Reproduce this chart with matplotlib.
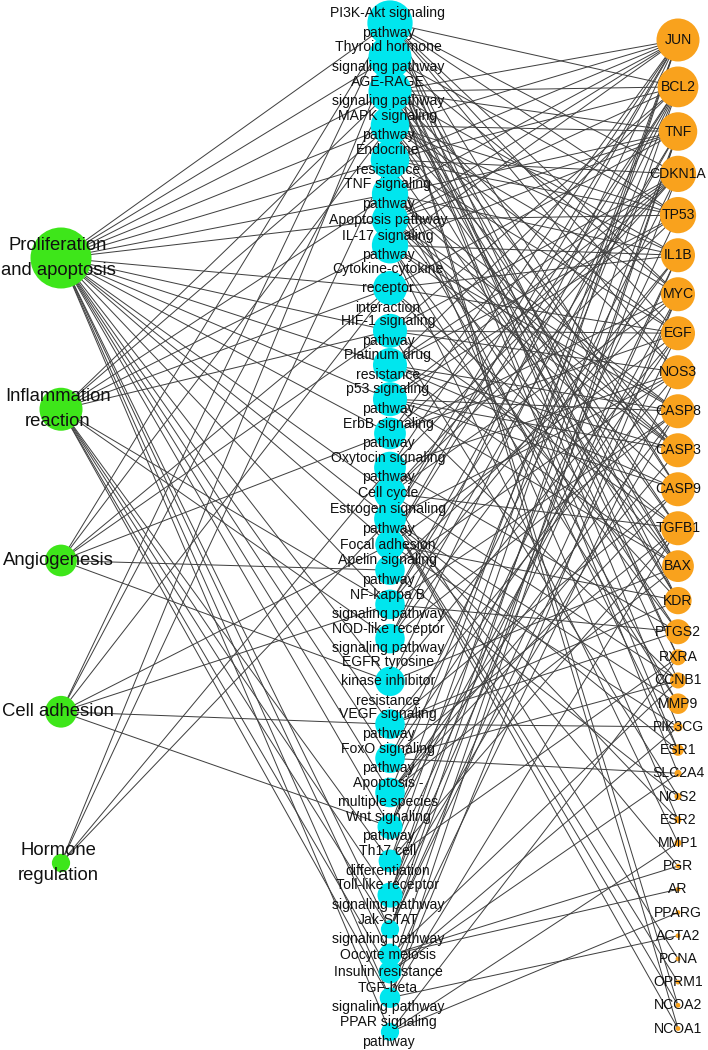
import numpy as np
import matplotlib.pyplot as plt
from matplotlib.patches import Circle

plt.rcParams['font.family'] = ['Liberation Sans', 'DejaVu Sans']

# --- nodes (left: functions, middle: KEGG pathways, right: targets) ---
categories = ["Proliferation\nand apoptosis", "Inflammation\nreaction",
              "Angiogenesis", "Cell adhesion", "Hormone\nregulation"]
category_degree = [26, 18, 13, 13, 7]

pathways = [
    "PI3K-Akt signaling\npathway", "Thyroid hormone\nsignaling pathway",
    "AGE-RAGE\nsignaling pathway", "MAPK signaling\npathway",
    "Endocrine\nresistance", "TNF signaling\npathway", "Apoptosis pathway",
    "IL-17 signaling\npathway", "Cytokine-cytokine\nreceptor\ninteraction",
    "HIF-1 signaling\npathway", "Platinum drug\nresistance",
    "p53 signaling\npathway", "ErbB signaling\npathway",
    "Oxytocin signaling\npathway", "Cell cycle", "Estrogen signaling\npathway",
    "Focal adhesion", "Apelin signaling\npathway", "NF-kappa B\nsignaling pathway",
    "NOD-like receptor\nsignaling pathway",
    "EGFR tyrosine\nkinase inhibitor\nresistance", "VEGF signaling\npathway",
    "FoxO signaling\npathway", "Apoptosis -\nmultiple species",
    "Wnt signaling\npathway", "Th17 cell\ndifferentiation",
    "Toll-like receptor\nsignaling pathway", "Jak-STAT\nsignaling pathway",
    "Oocyte meiosis", "Insulin resistance", "TGF-beta\nsignaling pathway",
    "PPAR signaling\npathway",
]
pathway_degree = [19, 18, 18, 16, 16, 15, 15, 15, 14, 14, 14, 14, 13, 13, 13, 13,
                  12, 12, 12, 12, 12, 12, 12, 12, 10, 9, 10, 7, 9, 9, 8, 7]

genes = ["JUN", "BCL2", "TNF", "CDKN1A", "TP53", "IL1B", "MYC", "EGF", "NOS3",
         "CASP8", "CASP3", "CASP9", "TGFB1", "BAX", "KDR", "PTGS2", "RXRA",
         "CCNB1", "MMP9", "PIK3CG", "ESR1", "SLC2A4", "NOS2", "ESR2", "MMP1",
         "PGR", "AR", "PPARG", "ACTA2", "PCNA", "OPRM1", "NCOA2", "NCOA1"]
gene_degree = [18, 17, 16, 15, 15, 14, 14, 14, 14, 14, 14, 14, 14, 13, 11, 10, 6,
               6, 8, 3, 4, 2, 2, 2, 2, 1, 1, 1, 1, 1, 1, 1, 1]

# --- edges ---
category_links = {
    "Proliferation and apoptosis": [
        "PI3K-Akt", "Thyroid hormone", "AGE-RAGE", "MAPK", "Endocrine", "TNF",
        "Apoptosis pathway", "Cytokine", "HIF-1", "Platinum", "p53", "ErbB",
        "Cell cycle", "Estrogen", "Focal", "NF-kappa", "EGFR", "VEGF", "FoxO",
        "Apoptosis -", "Wnt", "Jak-STAT", "Oocyte", "TGF-beta", "PPAR"],
    "Inflammation reaction": [
        "AGE-RAGE", "MAPK", "TNF", "IL-17", "Cytokine", "HIF-1", "NF-kappa",
        "NOD-like", "Th17", "Toll-like", "Jak-STAT", "Insulin", "TGF-beta"],
    "Angiogenesis": [
        "PI3K-Akt", "MAPK", "Cytokine", "HIF-1", "ErbB", "Apelin", "EGFR"],
    "Cell adhesion": [
        "PI3K-Akt", "AGE-RAGE", "Cytokine", "Focal", "NF-kappa", "VEGF", "Wnt"],
    "Hormone regulation": [
        "Thyroid hormone", "Endocrine", "Oxytocin", "Estrogen"],
}

pathway_links = {
    "PI3K-Akt": ["BCL2", "CDKN1A", "TP53", "MYC", "EGF", "NOS3", "CASP9", "KDR", "PIK3CG", "RXRA"],
    "Thyroid hormone": ["TP53", "MYC", "CASP9", "BAX", "ESR1", "NCOA1", "NCOA2", "RXRA", "SLC2A4", "CCNB1"],
    "AGE-RAGE": ["JUN", "BCL2", "TNF", "IL1B", "CASP3", "TGFB1", "BAX", "NOS3", "KDR"],
    "MAPK": ["JUN", "TNF", "TP53", "IL1B", "MYC", "EGF", "CASP3", "TGFB1", "KDR"],
    "Endocrine": ["JUN", "BCL2", "CDKN1A", "TP53", "EGF", "BAX", "ESR1", "ESR2"],
    "TNF": ["JUN", "TNF", "IL1B", "CASP8", "CASP3", "PTGS2", "MMP9"],
    "Apoptosis pathway": ["JUN", "BCL2", "TNF", "TP53", "CASP8", "CASP3", "CASP9", "BAX"],
    "IL-17": ["JUN", "TNF", "IL1B", "CASP8", "CASP3", "PTGS2", "MMP9", "MMP1"],
    "Cytokine": ["TNF", "IL1B", "EGF", "TGFB1", "KDR"],
    "HIF-1": ["BCL2", "CDKN1A", "EGF", "NOS3", "NOS2", "TGFB1"],
    "Platinum": ["BCL2", "CDKN1A", "TP53", "CASP8", "CASP3", "CASP9", "BAX"],
    "p53": ["CDKN1A", "TP53", "CASP8", "CASP3", "CASP9", "BAX", "CCNB1"],
    "ErbB": ["JUN", "CDKN1A", "MYC", "EGF"],
    "Oxytocin": ["JUN", "CDKN1A", "NOS3", "PTGS2"],
    "Cell cycle": ["CDKN1A", "TP53", "MYC", "TGFB1", "CCNB1", "PCNA"],
    "Estrogen": ["JUN", "BCL2", "NOS3", "ESR1", "ESR2", "MMP9", "PGR", "NCOA1", "NCOA2", "OPRM1"],
    "Focal": ["JUN", "BCL2", "EGF", "KDR", "PIK3CG"],
    "Apelin": ["NOS3", "NOS2", "MYC"],
    "NF-kappa": ["BCL2", "TNF", "IL1B", "PTGS2", "CASP8"],
    "NOD-like": ["JUN", "TNF", "IL1B", "CASP8"],
    "EGFR": ["BCL2", "EGF", "BAX"],
    "VEGF": ["NOS3", "PTGS2", "KDR", "CASP9", "PIK3CG"],
    "FoxO": ["CDKN1A", "EGF", "TGFB1", "CCNB1", "SLC2A4"],
    "Apoptosis -": ["BCL2", "CASP8", "CASP3", "CASP9", "BAX"],
    "Wnt": ["JUN", "MYC", "TP53"],
    "Th17": ["JUN", "IL1B", "TGFB1", "RXRA"],
    "Toll-like": ["JUN", "TNF", "IL1B", "CASP8"],
    "Jak-STAT": ["BCL2", "CDKN1A", "MYC", "EGF"],
    "Oocyte": ["PGR", "AR", "CCNB1"],
    "Insulin": ["TNF", "NOS3", "SLC2A4", "PIK3CG"],
    "TGF-beta": ["MYC", "TNF", "TGFB1", "ACTA2"],
    "PPAR": ["RXRA", "PPARG", "MMP1"],
}


def diameter(deg):
    return 2.5 + 2.25 * np.asarray(deg, dtype=float)


def find_pathway(key):
    for i, p in enumerate(pathways):
        if p.replace("\n", " ").startswith(key):
            return i
    raise KeyError(key)


# --- layout (manual column layout like the Cytoscape export) ---
x_cat, x_path, x_gene = 61, 390, 678

cat_y = np.linspace(258, 863, len(categories))

n_lines = np.array([p.count("\n") + 1 for p in pathways])
path_y = 23 + np.concatenate([[0], np.cumsum(17.1 * (n_lines[:-1] + n_lines[1:]) / 2)])

gd = diameter(gene_degree)
gene_y = [40.0]
for i in range(1, len(genes)):
    gene_y.append(gene_y[-1] + max(0.5 * (gd[i - 1] + gd[i]) + 5, 23.2))
gene_y = np.array(gene_y)

fig = plt.figure(figsize=(7.08, 10.5), dpi=100)
ax = fig.add_axes([0, 0, 1, 1])
ax.set_xlim(0, 708)
ax.set_ylim(1050, 0)
ax.axis('off')

edge_kw = dict(color='#404040', lw=0.72, zorder=1, solid_capstyle='butt')
cat_names = [c.replace("\n", " ") for c in categories]
for cat, targets in category_links.items():
    ci = cat_names.index(cat)
    for t in targets:
        pi = find_pathway(t)
        ax.plot([x_cat, x_path], [cat_y[ci], path_y[pi]], **edge_kw)

for p, targets in pathway_links.items():
    pi = find_pathway(p)
    for g in targets:
        gi = genes.index(g)
        ax.plot([x_path, x_gene], [path_y[pi], gene_y[gi]], **edge_kw)

# --- nodes ---
for y, d in zip(cat_y, diameter(category_degree)):
    ax.add_patch(Circle((x_cat, y), d / 2, color='#3ee61a', zorder=2, lw=0))
for y, d in zip(path_y, diameter(pathway_degree)):
    ax.add_patch(Circle((x_path, y), d / 2, color='#00e6ee', zorder=2, lw=0))
for y, d in zip(gene_y, gd):
    ax.add_patch(Circle((x_gene, y), d / 2, color='#f9a21d', zorder=2, lw=0))

# --- labels ---
for y, lab in zip(cat_y, categories):
    ax.text(x_cat - 3, y, lab, ha='center', va='center', fontsize=13.3,
            linespacing=1.6, color='#111111', zorder=3)
for y, lab in zip(path_y, pathways):
    ax.text(x_path - 2, y, lab, ha='center', va='center', fontsize=10.1,
            linespacing=1.5, color='#111111', zorder=3)
for y, lab in zip(gene_y, genes):
    ax.text(x_gene, y, lab, ha='center', va='center', fontsize=10.1,
            color='#111111', zorder=3)

fig.savefig('out.png', dpi=100)
